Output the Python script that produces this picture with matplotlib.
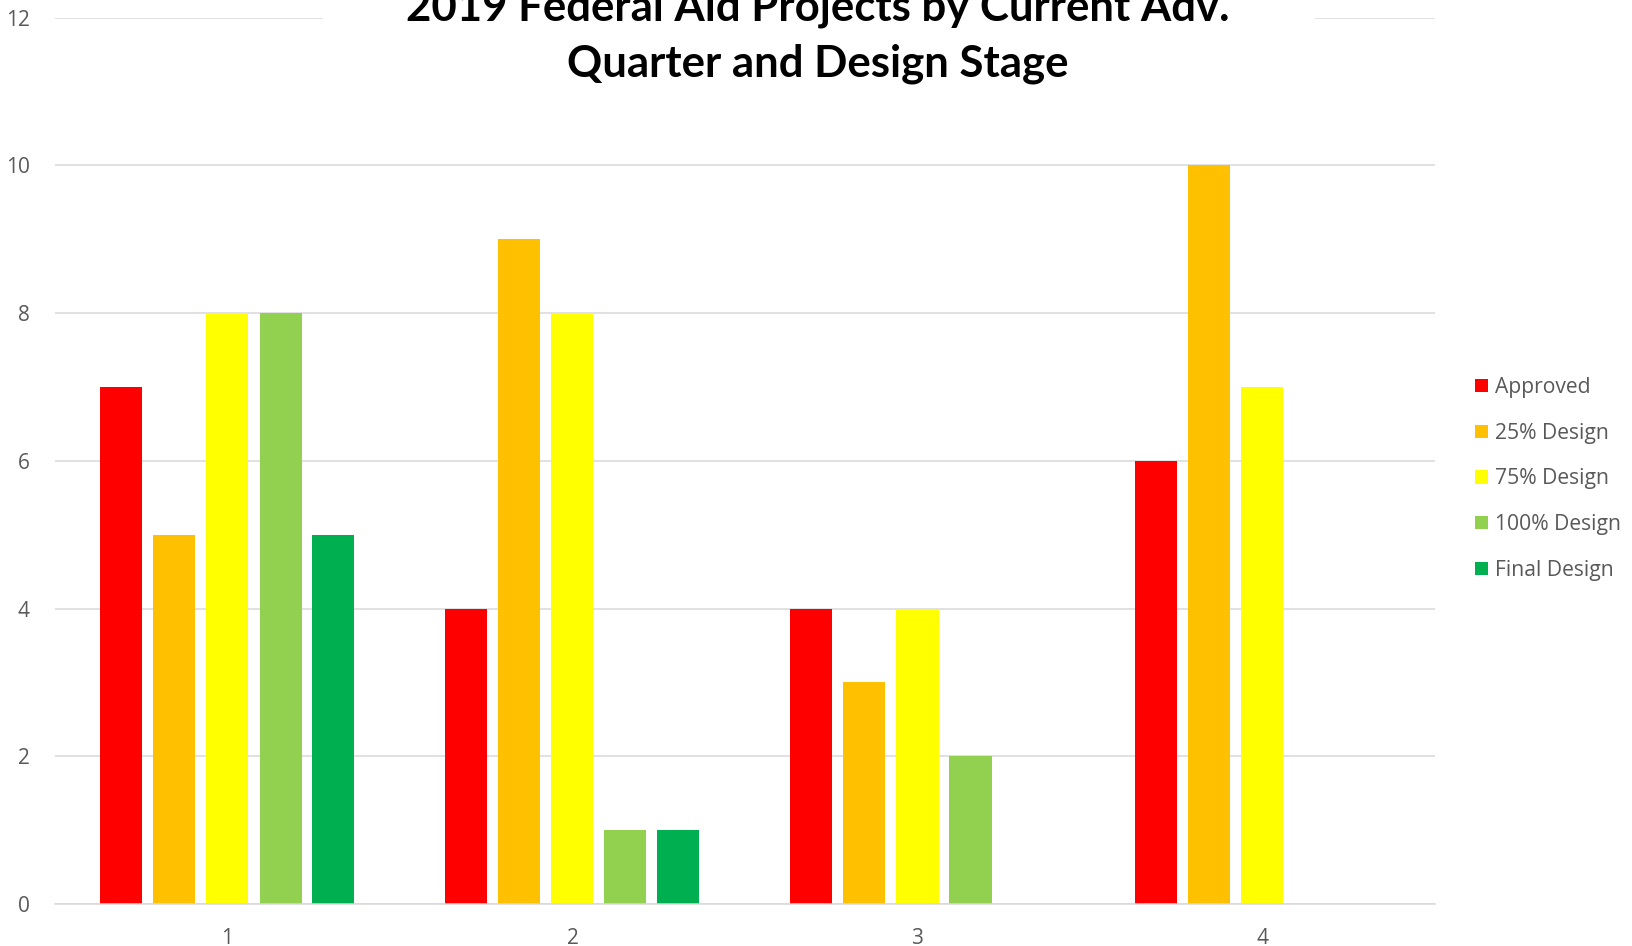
import numpy as np
import matplotlib.pyplot as plt
import matplotlib.patches as patches

quarters = ["1", "2", "3", "4"]
series_names = ["Approved", "25% Design", "75% Design", "100% Design", "Final Design"]
approved = [7, 4, 4, 6]
design_25 = [5, 9, 3, 10]
design_75 = [8, 8, 4, 7]
design_100 = [8, 1, 2, 0]
design_final = [5, 1, 0, 0]
colors = ["#FF0000", "#FFC000", "#FFFF00", "#92D050", "#00B050"]

series = [approved, design_25, design_75, design_100, design_final]

fig = plt.figure(figsize=(16.33, 9.46), dpi=100)
ax = fig.add_axes([55 / 1633, 1 - 904 / 946, 1380 / 1633, (904 - 17.7) / 946])

slot = 53 / 345
bar_w = 42 / 345
x = np.arange(len(quarters))
handles = []
for j, (vals, c, name) in enumerate(zip(series, colors, series_names)):
    h = ax.bar(x + (j - 2) * slot, vals, width=bar_w, color=c, label=name, zorder=2)
    handles.append(h)

ax.set_xlim(-0.5, len(quarters) - 0.5)
ax.set_ylim(0, 12)
ax.set_yticks(range(0, 13, 2))
ax.set_xticks(x)
ax.set_xticklabels(quarters)
ax.yaxis.grid(True, color="#D9D9D9", linewidth=1.1, zorder=0)
ax.set_axisbelow(True)
for s in ["top", "right", "left"]:
    ax.spines[s].set_visible(False)
ax.spines["bottom"].set_color("#D9D9D9")
ax.spines["bottom"].set_linewidth(1.1)
ax.tick_params(axis="both", length=0, labelcolor="#595959", labelsize=15)
ax.tick_params(axis="y", pad=18)
ax.tick_params(axis="x", pad=17)
for lab in ax.get_xticklabels() + ax.get_yticklabels():
    lab.set_fontfamily("Open Sans")

# white box behind the title hiding the top gridline
box = patches.Rectangle((323 / 1633, 1 - 100 / 946), (1315 - 323) / 1633, 100 / 946,
                        transform=fig.transFigure, facecolor="white", edgecolor="none", zorder=5)
fig.patches.append(box)
fig.text(818 / 1633, 1 - 21 / 946, "2019 Federal Aid Projects by Current Adv.",
         ha="center", va="baseline", fontsize=31.5, fontweight="bold", family="Lato", zorder=6)
fig.text(818 / 1633, 1 - 76 / 946, "Quarter and Design Stage",
         ha="center", va="baseline", fontsize=31.5, fontweight="bold", family="Lato", zorder=6)

leg = fig.legend(handles=handles, loc="upper left", bbox_to_anchor=(1475 / 1633, 1 - 377 / 946),
                 frameon=False, prop={"family": "Open Sans", "size": 15.2},
                 handlelength=0.6, handleheight=0.6, handletextpad=0.33, labelspacing=1.17,
                 borderaxespad=0, borderpad=0)
for t in leg.get_texts():
    t.set_color("#595959")

fig.savefig("out.png", dpi=100)
